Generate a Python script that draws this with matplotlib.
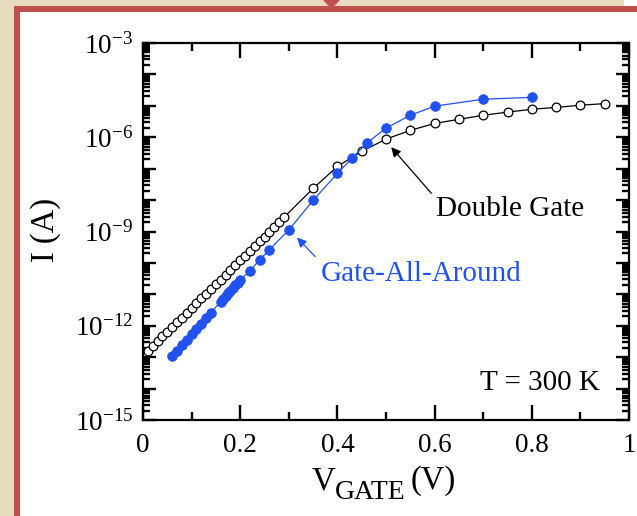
import numpy as np
import matplotlib.pyplot as plt
from matplotlib.patches import Rectangle, Polygon
from matplotlib.ticker import LogLocator, FixedLocator, FuncFormatter, MultipleLocator

plt.rcParams['font.family'] = ['Liberation Serif', 'DejaVu Serif']
plt.rcParams['mathtext.fontset'] = 'custom'
plt.rcParams['mathtext.rm'] = 'Liberation Serif'
plt.rcParams['mathtext.it'] = 'Liberation Serif:italic'

# Double Gate (open circles): gate voltage (V) and log10 of current (A)
dg_v = [0.01, 0.02, 0.03, 0.04, 0.05, 0.06, 0.07, 0.08, 0.09, 0.10,
        0.11, 0.12, 0.13, 0.14, 0.15, 0.16, 0.17, 0.18, 0.19, 0.20,
        0.21, 0.22, 0.23, 0.24, 0.25, 0.26, 0.27, 0.28, 0.29,
        0.35, 0.40, 0.45, 0.50, 0.55, 0.60, 0.65, 0.70, 0.75, 0.80,
        0.85, 0.90, 0.95]
dg_log = [-12.80, -12.65, -12.50, -12.34, -12.19, -12.04, -11.89, -11.74, -11.59, -11.44,
          -11.28, -11.13, -10.98, -10.83, -10.68, -10.53, -10.37, -10.22, -10.07, -9.92,
          -9.77, -9.62, -9.46, -9.31, -9.16, -9.01, -8.86, -8.71, -8.55,
          -7.63, -6.93, -6.45, -6.06, -5.78, -5.56, -5.43, -5.30, -5.20, -5.11,
          -5.05, -4.98, -4.93]

# Gate-All-Around (filled blue circles)
gaa_v = [0.06, 0.07, 0.08, 0.09, 0.10, 0.11, 0.12, 0.13, 0.14,
         0.16, 0.165, 0.17, 0.175, 0.18, 0.185, 0.19, 0.195, 0.20,
         0.22, 0.24, 0.26, 0.30, 0.35, 0.40, 0.43, 0.46, 0.50,
         0.55, 0.60, 0.70, 0.80]
gaa_log = [-12.96, -12.79, -12.62, -12.45, -12.27, -12.10, -11.93, -11.75, -11.58,
           -11.23, -11.15, -11.06, -10.97, -10.89, -10.80, -10.71, -10.63, -10.54,
           -10.25, -9.90, -9.58, -8.95, -8.01, -7.15, -6.67, -6.19, -5.71,
           -5.30, -5.01, -4.79, -4.73]

x_ticks = [0, 0.2, 0.4, 0.6, 0.8, 1.0]
y_decades = list(range(-15, -2))

W, H = 637, 516
blue = '#2152f0'
red = '#c0504d'
beige = '#e8dcc0'


def fx(px):
    return px / W


def fy(py):
    return 1 - py / H


fig = plt.figure(figsize=(W / 100, H / 100), dpi=100)
fig.patch.set_facecolor('white')

# slide frame bits round the picture
fig.patches.append(Rectangle((0, 0), fx(14), 1, transform=fig.transFigure,
                             facecolor=beige, edgecolor='none', zorder=0))
fig.patches.append(Rectangle((0, fy(6)), fx(624), 6 / H, transform=fig.transFigure,
                             facecolor=beige, edgecolor='none', zorder=0))
fig.patches.append(Rectangle((fx(14), 0), 6 / W, fy(6), transform=fig.transFigure,
                             facecolor=red, edgecolor='none', zorder=1))
fig.patches.append(Rectangle((fx(14), fy(12)), 1, 6 / H, transform=fig.transFigure,
                             facecolor=red, edgecolor='none', zorder=1))
fig.patches.append(Polygon([(fx(323), 1), (fx(340), 1), (fx(331.5), fy(9))],
                           closed=True, transform=fig.transFigure,
                           facecolor=red, edgecolor='none', zorder=1))

ax = fig.add_axes([fx(143), fy(420), (629 - 143) / W, (420 - 43) / H])

ax.plot(dg_v, 10.0 ** np.array(dg_log), color='black', lw=0.9,
        marker='o', ms=6.3, mfc='white', mec='black', mew=0.9, zorder=3)
ax.plot(gaa_v, 10.0 ** np.array(gaa_log), color=blue, lw=0.9,
        marker='o', ms=7.0, mfc=blue, mec=blue, mew=0.5, zorder=4)

ax.set_yscale('log')
ax.set_xlim(0, 1)
ax.set_ylim(1e-15, 1e-3)

ax.xaxis.set_major_locator(FixedLocator(x_ticks))
ax.xaxis.set_minor_locator(MultipleLocator(0.1))
ax.xaxis.set_major_formatter(FuncFormatter(lambda v, p: '%g' % v))

ax.yaxis.set_major_locator(FixedLocator([10.0 ** d for d in y_decades]))
ax.yaxis.set_minor_locator(LogLocator(base=10, subs=np.arange(2, 10), numticks=100))


def ylab(v, p):
    e = int(round(np.log10(v)))
    if e % 3 == 0:
        return r'$\mathdefault{10^{%d}}$' % e
    return ''


ax.yaxis.set_major_formatter(FuncFormatter(ylab))

ax.tick_params(which='both', direction='in', top=True, right=True, width=1.7, colors='black')
ax.tick_params(axis='x', which='major', length=11, pad=9, labelsize=19.5)
ax.tick_params(axis='x', which='minor', length=6)
ax.tick_params(axis='y', which='major', length=9.5, pad=7, labelsize=19.5)
ax.tick_params(axis='y', which='minor', length=5)
for s in ax.spines.values():
    s.set_linewidth(1.6)

# annotations
ax.annotate('', xy=(0.507, 10 ** -6.25), xytext=(0.597, 10 ** -7.85),
            arrowprops=dict(arrowstyle='-|>', color='black', lw=0.9, mutation_scale=14))
ax.text(0.755, 10 ** -8.27, 'Double Gate', ha='center', va='center', fontsize=21)

ax.annotate('', xy=(0.313, 10 ** -9.13), xytext=(0.358, 10 ** -9.86),
            arrowprops=dict(arrowstyle='-|>', color=blue, lw=0.9, mutation_scale=14))
ax.text(0.572, 10 ** -10.34, 'Gate-All-Around', ha='center', va='center',
        fontsize=21, color=blue)

ax.text(0.94, 10 ** -13.82, 'T = 300 K', ha='right', va='center', fontsize=21)

# axis labels
fig.text(fx(46), fy(230), 'I (A)', rotation=90, ha='center', va='center', fontsize=23.5)
fig.text(fx(335), fy(489), 'V', ha='right', va='baseline', fontsize=23.5)
fig.text(fx(335), fy(499), 'GATE', ha='left', va='baseline', fontsize=20)
fig.text(fx(411), fy(489), '(V)', ha='left', va='baseline', fontsize=23.5)

fig.savefig('out.png', dpi=100)
